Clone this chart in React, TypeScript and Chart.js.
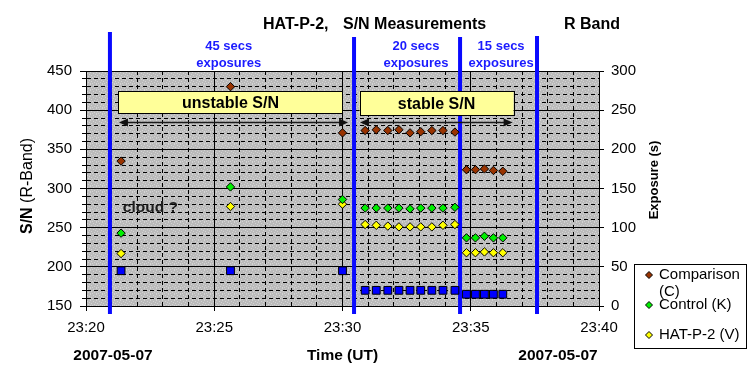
import React, { useEffect, useRef } from "react";
import { Chart, registerables } from "chart.js";

Chart.register(...registerables);

// ---------------- data ----------------
const obsTimes = [
  "23:21:22", "23:25:38", "23:30:00",
  "23:30:53", "23:31:19", "23:31:46", "23:32:12", "23:32:38", "23:33:03", "23:33:29", "23:33:55", "23:34:23",
  "23:34:50", "23:35:11", "23:35:32", "23:35:53", "23:36:15",
];
const comparisonSN = [335, 430, 371, 374, 375, 374, 375, 371, 372.5, 374, 374, 372, 324, 324, 325, 323, 322];
const controlSN = [243, 302, 286, 275, 275, 275, 275, 274, 275, 275, 275, 276, 237, 237, 239, 237, 237];
const hatp2SN = [217, 277, 280, 254, 253, 252, 251, 251, 251, 251, 253, 254, 218, 218, 219, 218, 218];
const exposureSec = [45, 45, 45, 20, 20, 20, 20, 20, 20, 20, 20, 20, 15, 15, 15, 15, 15];

const seriesLabels = ["Comparison (C)", "Control (K)", "HAT-P-2 (V)", "Exposure"];

const timeMin = "23:20";
const timeMax = "23:40";
const timeMajorStep = 5; // minutes
const snMin = 150;
const snMax = 450;
const snMajorStep = 50;
const snMinorStep = 10;
const expMin = 0;
const expMax = 300;
const expStep = 50;

const boundaryTimes = ["23:20:56", "23:30:27", "23:34:35", "23:37:35"];
const exposureNotes = ["45 secs", "20 secs", "15 secs"];
const exposureNoteTimes = ["23:25:34", "23:32:52", "23:36:11"];
const regionLabels = ["unstable S/N", "stable S/N"];
const regionStart = ["23:21:16", "23:30:40"];
const regionEnd = ["23:30:00", "23:36:40"];
const regionTopSN = [424, 424];
const regionBottomSN = [396, 393];
const arrowStart = ["23:21:17", "23:30:41"];
const arrowEnd = ["23:30:13", "23:36:38"];
const arrowSN = [385, 385];
const cloudNote = "cloud ?";
const cloudTime = "23:21:26";
const cloudSN = 276;

const titleLeft = "HAT-P-2,";
const titleMid = "S/N Measurements";
const titleRight = "R Band";
const xAxisTitle = "Time (UT)";
const dateLabel = "2007-05-07";
const yTitleBold = "S/N";
const yTitleNormal = "(R-Band)";
const y2Title = "Exposure (s)";

// ---------------- styles ----------------
const FONT = "'Liberation Sans', Arial, sans-serif";
const boundaryTopPx = [32, 37, 37, 36];
const boundaryBottomPx = 314;
const stippleDots = [[0, 0], [3, 1], [5, 2], [1, 3], [4, 4], [2, 5], [0, 5]];

function toMin(t: string): number {
  const p = t.split(":").map(Number);
  return p[0] * 60 + p[1] + (p[2] || 0) / 60;
}

function fmtTime(v: number): string {
  const m = Math.round(v);
  return `${Math.floor(m / 60)}:${String(m % 60).padStart(2, "0")}`;
}

function makePattern(ctx: CanvasRenderingContext2D) {
  const c = document.createElement("canvas");
  c.width = 6;
  c.height = 6;
  const g = c.getContext("2d")!;
  g.fillStyle = "#bbbbbb";
  g.fillRect(0, 0, 6, 6);
  g.fillStyle = "#d3d3d3";
  for (const [px, py] of stippleDots) g.fillRect(px, py, 1, 1);
  return ctx.createPattern(c, "repeat");
}

const bgPlugin = {
  id: "bgPlugin",
  beforeDraw(chart: any) {
    const { ctx, chartArea: a } = chart;
    ctx.save();
    ctx.fillStyle = "#ffffff";
    ctx.fillRect(0, 0, chart.width, chart.height);
    ctx.fillStyle = makePattern(ctx) || "#c0c0c0";
    ctx.fillRect(a.left, a.top, a.right - a.left, a.bottom - a.top);
    ctx.restore();
  },
  beforeDatasetsDraw(chart: any) {
    const { ctx, scales } = chart;
    const xs = scales.x;
    const ys = scales.y;
    ctx.save();
    // boundaries
    ctx.strokeStyle = "#0a0aff";
    ctx.lineWidth = 4;
    boundaryTimes.forEach((t, i) => {
      const x = xs.getPixelForValue(toMin(t));
      ctx.beginPath();
      ctx.moveTo(x, boundaryTopPx[i]);
      ctx.lineTo(x, boundaryBottomPx);
      ctx.stroke();
    });
    // region boxes
    regionLabels.forEach((lab, i) => {
      const x1 = xs.getPixelForValue(toMin(regionStart[i]));
      const x2 = xs.getPixelForValue(toMin(regionEnd[i]));
      const y1 = ys.getPixelForValue(regionTopSN[i]);
      const y2 = ys.getPixelForValue(regionBottomSN[i]);
      ctx.fillStyle = "#ffff99";
      ctx.fillRect(x1, y1, x2 - x1, y2 - y1);
      ctx.strokeStyle = "#000";
      ctx.lineWidth = 1;
      ctx.strokeRect(Math.round(x1) + 0.5, Math.round(y1) + 0.5, Math.round(x2 - x1), Math.round(y2 - y1));
      ctx.fillStyle = "#000";
      ctx.font = `bold 16px ${FONT}`;
      ctx.textAlign = "center";
      ctx.textBaseline = "middle";
      ctx.fillText(lab, (x1 + x2) / 2, (y1 + y2) / 2 + 1);
    });
    // arrows
    arrowStart.forEach((s, i) => {
      const x1 = xs.getPixelForValue(toMin(s));
      const x2 = xs.getPixelForValue(toMin(arrowEnd[i]));
      const y = Math.round(ys.getPixelForValue(arrowSN[i])) + 0.5;
      ctx.strokeStyle = "#1a1a1a";
      ctx.lineWidth = 1.5;
      ctx.beginPath();
      ctx.moveTo(x1 + 8, y);
      ctx.lineTo(x2 - 8, y);
      ctx.stroke();
      ctx.fillStyle = "#111";
      ctx.beginPath();
      ctx.moveTo(x1, y);
      ctx.lineTo(x1 + 9, y - 4);
      ctx.lineTo(x1 + 9, y + 4);
      ctx.closePath();
      ctx.fill();
      ctx.beginPath();
      ctx.moveTo(x2, y);
      ctx.lineTo(x2 - 9, y - 4);
      ctx.lineTo(x2 - 9, y + 4);
      ctx.closePath();
      ctx.fill();
    });
    // cloud note
    ctx.fillStyle = "#1e1e1e";
    ctx.font = `bold 15.5px ${FONT}`;
    ctx.textAlign = "left";
    ctx.textBaseline = "middle";
    ctx.fillText(cloudNote, xs.getPixelForValue(toMin(cloudTime)), ys.getPixelForValue(cloudSN));
    ctx.restore();
  },
  afterDraw(chart: any) {
    const { ctx, chartArea: a, scales } = chart;
    const xs = scales.x;
    ctx.save();
    ctx.fillStyle = "#000";
    ctx.textBaseline = "middle";
    // title
    ctx.font = `bold 16px ${FONT}`;
    ctx.textAlign = "left";
    ctx.fillText(titleLeft, 263, 25);
    ctx.fillText(titleMid, 343, 25);
    ctx.fillText(titleRight, 564, 25);
    // exposure notes
    ctx.fillStyle = "#1a1aff";
    ctx.font = `bold 13px ${FONT}`;
    ctx.textAlign = "center";
    exposureNotes.forEach((n, i) => {
      const x = xs.getPixelForValue(toMin(exposureNoteTimes[i]));
      ctx.fillText(n, x, 46.5);
      ctx.fillText("exposures", x, 63);
    });
    // x axis title & dates
    ctx.fillStyle = "#000";
    ctx.font = `bold 15.5px ${FONT}`;
    ctx.fillText(xAxisTitle, (a.left + a.right) / 2, 356);
    ctx.fillText(dateLabel, 113, 356);
    ctx.fillText(dateLabel, 558, 356);
    // left y title (mixed weight)
    ctx.save();
    ctx.translate(28, 186);
    ctx.rotate(-Math.PI / 2);
    ctx.textAlign = "left";
    ctx.font = `bold 16px ${FONT}`;
    const wb = ctx.measureText(yTitleBold + " ").width;
    ctx.font = `16px ${FONT}`;
    const wn = ctx.measureText(yTitleNormal).width;
    const start = -(wb + wn) / 2;
    ctx.font = `bold 16px ${FONT}`;
    ctx.fillText(yTitleBold + " ", start, 0);
    ctx.font = `16px ${FONT}`;
    ctx.fillText(yTitleNormal, start + wb, 0);
    ctx.restore();
    // right y title
    ctx.save();
    ctx.translate(654, 180);
    ctx.rotate(-Math.PI / 2);
    ctx.textAlign = "center";
    ctx.font = `bold 13px ${FONT}`;
    ctx.fillText(y2Title, 0, 0);
    ctx.restore();
    // legend
    const bx1 = 634, by1 = 264, bx2 = 747, by2 = 349;
    ctx.fillStyle = "#fff";
    ctx.fillRect(bx1, by1, bx2 - bx1, by2 - by1);
    ctx.strokeStyle = "#000";
    ctx.lineWidth = 1;
    ctx.strokeRect(bx1 + 0.5, by1 + 0.5, bx2 - bx1 - 1, by2 - by1 - 1);
    ctx.font = `15px ${FONT}`;
    ctx.textAlign = "left";
    const textX = 659;
    const maxW = bx2 - textX - 3;
    chart.data.datasets
      .filter((ds: any) => ds.yAxisID === "y")
      .forEach((ds: any, i: number) => {
        const cy = 275 + i * 30;
        // marker
        ctx.fillStyle = ds.backgroundColor;
        ctx.strokeStyle = "#000";
        ctx.lineWidth = 1;
        ctx.beginPath();
        ctx.moveTo(649, cy - 3.5);
        ctx.lineTo(652.5, cy);
        ctx.lineTo(649, cy + 3.5);
        ctx.lineTo(645.5, cy);
        ctx.closePath();
        ctx.fill();
        ctx.stroke();
        ctx.fillStyle = "#000";
        const label: string = ds.label;
        if (ctx.measureText(label).width > maxW && label.lastIndexOf(" ") > 0) {
          const k = label.lastIndexOf(" ");
          ctx.fillText(label.slice(0, k), textX, cy);
          ctx.fillText(label.slice(k + 1), textX, cy + 16.5);
        } else {
          ctx.fillText(label, textX, cy);
        }
      });
    ctx.restore();
  },
};

function pts(vals: number[]) {
  return obsTimes.map((t, i) => ({ x: toMin(t), y: vals[i] }));
}

export default function App() {
  const ref = useRef<HTMLCanvasElement>(null);
  useEffect(() => {
    const isMajorX = (v: number) => Math.abs(Math.round(v) % timeMajorStep) < 1e-6;
    const isMajorY = (v: number) => Math.round(v) % snMajorStep === 0;
    const chart = new Chart(ref.current!, {
      type: "scatter",
      data: {
        datasets: [
          {
            label: seriesLabels[0],
            data: pts(comparisonSN),
            yAxisID: "y",
            pointStyle: "rectRot",
            pointRadius: 4.2,
            backgroundColor: "#993300",
            borderColor: "#000",
            borderWidth: 1,
          },
          {
            label: seriesLabels[1],
            data: pts(controlSN),
            yAxisID: "y",
            pointStyle: "rectRot",
            pointRadius: 4.2,
            backgroundColor: "#00ee00",
            borderColor: "#000",
            borderWidth: 1,
          },
          {
            label: seriesLabels[2],
            data: pts(hatp2SN),
            yAxisID: "y",
            pointStyle: "rectRot",
            pointRadius: 4.2,
            backgroundColor: "#ffff00",
            borderColor: "#000",
            borderWidth: 1,
          },
          {
            label: seriesLabels[3],
            data: pts(exposureSec),
            yAxisID: "y2",
            pointStyle: "rect",
            pointRadius: 5.5,
            backgroundColor: "#0000ff",
            borderColor: "#000",
            borderWidth: 1,
          },
        ],
      } as any,
      options: {
        responsive: false,
        animation: false,
        events: [],
        layout: { padding: { top: 71, right: 110, bottom: 0, left: 0 } },
        plugins: { legend: { display: false }, tooltip: { enabled: false } },
        scales: {
          x: {
            type: "linear",
            position: "bottom",
            min: toMin(timeMin),
            max: toMin(timeMax),
            ticks: {
              stepSize: 1,
              autoSkip: false,
              maxRotation: 0,
              padding: 8,
              color: "#000",
              font: { family: FONT, size: 15 },
              callback: (v: any) => (isMajorX(Number(v)) ? fmtTime(Number(v)) : ""),
            },
            grid: {
              color: "#000",
              lineWidth: 1,
              tickLength: 5,
              tickColor: (c: any) => (c.tick && isMajorX(c.tick.value) ? "#000" : "rgba(0,0,0,0)"),
            },
            border: {
              color: "#000",
              dash: (c: any) => (c.type === "tick" && c.tick && !isMajorX(c.tick.value) ? [4, 3] : []),
            },
            afterFit: (s: any) => {
              s.height = 78;
            },
          },
          y: {
            type: "linear",
            position: "left",
            min: snMin,
            max: snMax,
            ticks: {
              stepSize: snMinorStep,
              autoSkip: false,
              padding: 8,
              color: "#000",
              font: { family: FONT, size: 15 },
              callback: (v: any) => (isMajorY(Number(v)) ? String(v) : ""),
            },
            grid: {
              color: "#000",
              lineWidth: 1,
              tickLength: 6,
              tickBorderDash: (c: any) => (c.tick && !isMajorY(c.tick.value) ? [0, 2, 4, 100] : []),
            },
            border: {
              color: "#000",
              dash: (c: any) => (c.type === "tick" && c.tick && !isMajorY(c.tick.value) ? [4, 3] : []),
            },
            afterFit: (s: any) => {
              s.width = 86;
            },
          },
          y2: {
            type: "linear",
            position: "right",
            min: expMin,
            max: expMax,
            ticks: {
              stepSize: expStep,
              padding: 7,
              color: "#000",
              font: { family: FONT, size: 15 },
            },
            grid: { drawOnChartArea: false, color: "#000", tickLength: 5 },
            border: { color: "#000" },
            afterFit: (s: any) => {
              s.width = 40;
            },
          },
        },
      } as any,
      plugins: [bgPlugin],
    });
    return () => chart.destroy();
  }, []);
  return (
    <div style={{ position: "absolute", left: 0, top: 0, width: 749, height: 384, background: "#fff" }}>
      <canvas ref={ref} width={749} height={384} style={{ display: "block" }} />
    </div>
  );
}
